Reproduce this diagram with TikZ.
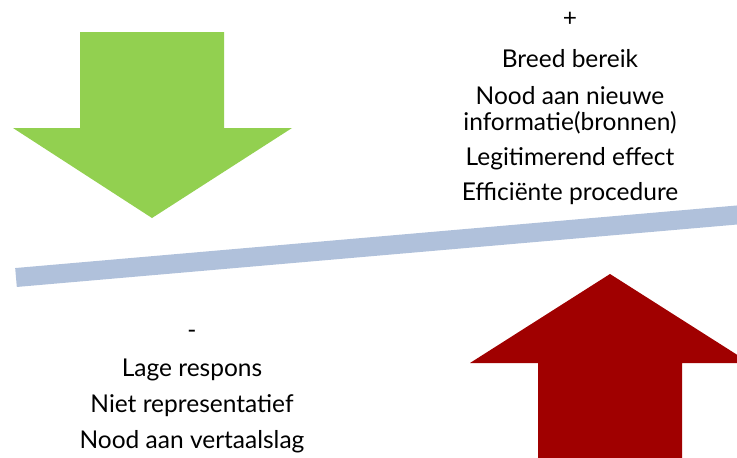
\documentclass[tikz,border=0pt]{standalone}
\usepackage{fontspec}
\setmainfont{Lato}
\definecolor{upgreen}{HTML}{92D050}
\definecolor{downred}{HTML}{A00000}
\definecolor{beam}{HTML}{B0C1DB}
\begin{document}
\begin{tikzpicture}[x=1pt,y=-1pt,
  pro/.style={anchor=base,font=\fontsize{24.5}{28}\selectfont,text=black,inner sep=0pt},
  con/.style={pro}]
\useasboundingbox (0,0) rectangle (737,458);
\clip (0,0) rectangle (737,458);
% green arrow pointing down
\fill[upgreen] (80,32) -- (224,32) -- (224,128) -- (292,128) -- (152,218)
  -- (13,128) -- (80,128) -- cycle;
% tilted beam
\coordinate (beamL) at (16,277.5);
\coordinate (beamR) at (760,213);
\draw[beam,line width=19pt] (beamL) -- (beamR);
% red arrow pointing up
\fill[downred] (538,470) -- (538,363) -- (470,363) -- (610,274) -- (750,363)
  -- (682,363) -- (682,470) -- cycle;
% advantages
\node[pro] (plus) at (570,26) {+};
\node[pro] (p1) at (570,67) {Breed bereik};
\node[pro] (p2) at (570,104) {Nood aan nieuwe};
\node[pro] (p3) at (570,130) {informatie(bronnen)};
\node[pro] (p4) at (570,165) {Legitimerend effect};
\node[pro] (p5) at (570,200) {Efficiënte procedure};
% disadvantages
\node[con] (minus) at (192,338) {-};
\node[con] (m1) at (192,376) {Lage respons};
\node[con] (m2) at (192,412) {Niet representatief};
\node[con] (m3) at (192,448) {Nood aan vertaalslag};
\end{tikzpicture}
\end{document}
